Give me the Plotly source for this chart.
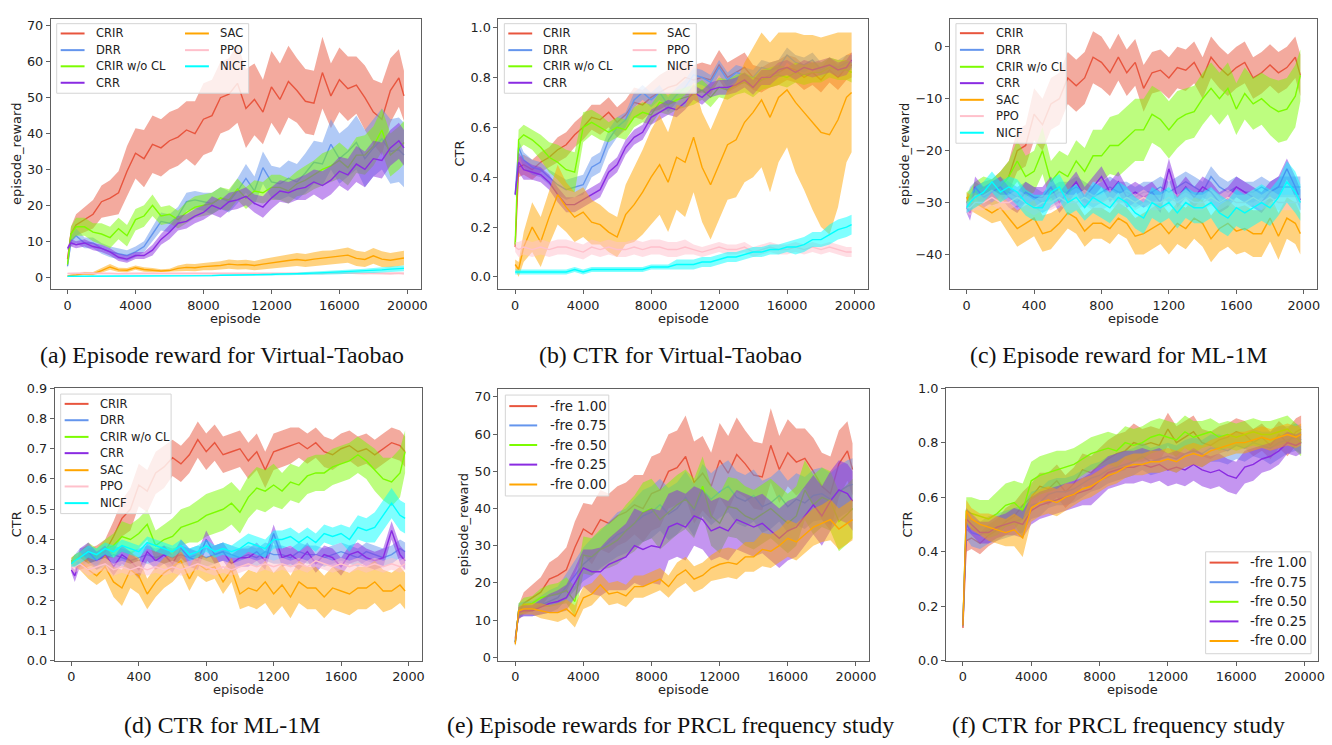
import plotly.graph_objects as go

W, H = 1332, 745

# ---------------- sample positions (episodes) ----------------
EP20K = [0, 200] + list(range(500, 20000, 500)) + [19800]
EP2K = [0, 20] + list(range(50, 2000, 50)) + [1980]

METHODS = ["CRIR", "DRR", "CRIR w/o CL", "CRR", "SAC", "PPO", "NICF"]
FRE_LABELS = ["-fre 1.00", "-fre 0.75", "-fre 0.50", "-fre 0.25", "-fre 0.00"]

X20K_TICKS = [0, 4000, 8000, 12000, 16000, 20000]
X2K_TICKS = [0, 400, 800, 1200, 1600, 2000]
Y_REWARD_TB_TICKS = [0, 10, 20, 30, 40, 50, 60, 70]
Y_CTR_TICKS_10 = [0.0, 0.2, 0.4, 0.6, 0.8, 1.0]
Y_REWARD_ML_TICKS = [-40, -30, -20, -10, 0]
Y_CTR_TICKS_09 = [0.0, 0.1, 0.2, 0.3, 0.4, 0.5, 0.6, 0.7, 0.8, 0.9]

CAPTIONS = ["(a) Episode reward for Virtual-Taobao", "(b) CTR for Virtual-Taobao",
            "(c) Episode reward for ML-1M", "(d) CTR for ML-1M",
            "(e) Episode rewards for PRCL frequency study", "(f) CTR for PRCL frequency study"]

# ---------------- (a) episode reward, Virtual-Taobao ----------------
A_CRIR_MEAN = [5, 12,
    14.5, 16, 17.5, 21, 22, 23.5, 29.5, 34.5, 33, 37,
    36, 38, 39, 41, 40, 44, 45, 50, 51, 54,
    47, 49.5, 46, 53, 49.5, 54.5, 52, 49, 48.5, 57,
    50.5, 55, 52.5, 53.5, 50, 46, 44, 52, 55.5, 50.5]
A_CRIR_SPREAD = [1, 2,
    3, 3.5, 4, 4.5, 5, 6, 7, 7, 8, 8,
    8, 8, 8, 8, 9, 10, 10, 10, 10, 11,
    11, 10, 9, 10, 10, 10, 9, 9, 9, 10,
    9, 9, 9, 8, 9, 9, 10, 9, 8, 7]
A_DRR_MEAN = [3, 10,
    11.5, 9.5, 9.5, 8, 7, 6.5, 6, 7, 8.5, 12,
    15.5, 15, 17, 21, 21.5, 21, 20.5, 22, 21, 24,
    27.5, 24, 30.5, 26.5, 26, 27.5, 26.5, 29, 32, 31.5,
    37, 33, 35, 37.5, 33, 36, 38.5, 35, 35.5, 34]
A_DRR_SPREAD = [0.5, 1.5,
    2, 1.5, 1.5, 1.5, 1.5, 1.5, 1.5, 1.5, 1.5, 2,
    2.5, 2.5, 2.5, 2.5, 2.5, 2.5, 3, 3, 3, 3.5,
    4, 4, 4.5, 4.5, 4.5, 5, 5, 5.5, 6, 6,
    7, 7, 7, 7.5, 8, 8, 8.5, 9, 9, 9]
A_GRN_MEAN = [3.5, 12,
    14, 14, 12.5, 12, 11, 13.5, 11.5, 16, 17, 20,
    17, 17.5, 16, 18, 19.5, 20, 20.5, 22, 21.5, 24.5,
    22, 24, 23.5, 25, 25, 24, 26, 27, 28.5, 30,
    31, 32.5, 30.5, 34, 34, 36.5, 41, 34, 36, 37.5]
A_GRN_SPREAD = [0.5, 2,
    2.5, 2.5, 2.5, 3, 3, 3, 3, 3, 3, 3,
    2.5, 2.5, 2.5, 3, 3, 3, 3, 3, 3, 3,
    3, 3, 3, 3.5, 3.5, 3.5, 3.5, 4, 4, 4.5,
    4.5, 5, 5, 5, 5.5, 5.5, 6, 6, 6, 6]
A_CRR_MEAN = [8, 9.5,
    9, 9.5, 8.5, 8, 7, 5.5, 5, 6, 6, 7.5,
    10.5, 12.5, 15, 15.5, 17, 18, 20, 19, 21, 21.5,
    22.5, 20.5, 19.5, 22, 24, 23.5, 24.5, 25, 26.5, 25.5,
    27, 29.5, 28.5, 31.5, 30, 33, 32.5, 36, 38, 36]
A_CRR_SPREAD = [0.5, 1,
    1, 1, 1, 1, 1, 1, 1, 1, 1, 1.5,
    1.5, 2, 2, 2, 2, 2, 2.5, 2.5, 2.5, 2.5,
    2.5, 2.5, 3, 3, 3, 3, 3, 3.5, 3.5, 4,
    4, 4, 4.5, 5, 5, 5, 5, 5, 5, 5]
A_SAC_MEAN = [0.3, 0.5,
    0.6, 1.0, 0.9, 1.8, 2.8, 2.0, 1.9, 2.6, 2.1, 1.9,
    1.7, 1.8, 2.4, 2.7, 2.6, 2.9, 3.0, 3.2, 3.6, 3.4,
    3.5, 3.2, 3.6, 4.0, 4.3, 4.6, 4.9, 4.6, 5.0, 5.3,
    5.4, 5.8, 6.1, 5.2, 4.9, 5.9, 5.0, 4.7, 5.0, 5.3]
A_SAC_SPREAD = [0.2, 0.3,
    0.3, 0.4, 0.5, 0.6, 0.8, 0.6, 0.6, 0.6, 0.6, 0.6,
    0.5, 0.5, 0.8, 1.0, 1.0, 1.0, 1.1, 1.2, 1.3, 1.3,
    1.3, 1.3, 1.4, 1.5, 1.6, 1.7, 1.8, 1.8, 1.9, 2.0,
    2.0, 2.0, 2.1, 2.1, 2.1, 2.2, 2.2, 2.0, 2.0, 2.0]
A_PPO_MEAN = [1.0, 1.0,
    1.1, 1.2, 1.1, 1.0, 1.0, 0.9, 1.0, 1.1, 1.0, 1.0,
    0.9, 1.0, 1.0, 1.1, 1.0, 1.0, 1.1, 1.0, 1.0, 1.0,
    1.1, 1.0, 0.9, 1.0, 1.0, 1.1, 1.0, 1.0, 1.1, 1.0,
    1.2, 1.1, 1.2, 1.1, 1.0, 1.1, 1.0, 1.0, 1.1, 1.0]
A_PPO_SPREAD = [0.2, 0.3,
    0.3, 0.3, 0.3, 0.3, 0.3, 0.3, 0.3, 0.3, 0.3, 0.3,
    0.3, 0.3, 0.3, 0.3, 0.3, 0.3, 0.3, 0.3, 0.3, 0.3,
    0.3, 0.3, 0.3, 0.3, 0.3, 0.3, 0.3, 0.3, 0.3, 0.3,
    0.3, 0.3, 0.3, 0.3, 0.4, 0.4, 0.4, 0.4, 0.4, 0.4]
A_NICF_MEAN = [0.2, 0.2,
    0.2, 0.2, 0.2, 0.2, 0.2, 0.2, 0.3, 0.3, 0.3, 0.3,
    0.3, 0.3, 0.4, 0.4, 0.4, 0.4, 0.4, 0.5, 0.5, 0.5,
    0.6, 0.6, 0.7, 0.7, 0.8, 0.8, 0.9, 1.0, 1.1, 1.2,
    1.3, 1.3, 1.4, 1.5, 1.7, 1.8, 2.0, 2.2, 2.3, 2.4]
A_NICF_SPREAD = [0.1, 0.1,
    0.1, 0.1, 0.1, 0.1, 0.1, 0.1, 0.1, 0.1, 0.1, 0.1,
    0.1, 0.1, 0.1, 0.1, 0.2, 0.2, 0.2, 0.2, 0.2, 0.2,
    0.2, 0.2, 0.3, 0.3, 0.3, 0.3, 0.3, 0.4, 0.4, 0.4,
    0.5, 0.5, 0.5, 0.6, 0.6, 0.7, 0.7, 0.8, 0.8, 0.8]

# ---------------- (b) CTR, Virtual-Taobao ----------------
B_CRIR_MEAN = [0.12, 0.44,
    0.45, 0.43, 0.46, 0.48, 0.51, 0.53, 0.57, 0.60, 0.64, 0.63,
    0.66, 0.62, 0.65, 0.70, 0.69, 0.72, 0.74, 0.76, 0.77, 0.80,
    0.79, 0.80, 0.79, 0.85, 0.80, 0.82, 0.84, 0.80, 0.79, 0.81,
    0.82, 0.84, 0.83, 0.80, 0.82, 0.79, 0.83, 0.80, 0.84, 0.85]
B_CRIR_SPREAD = [0.01, 0.04,
    0.04, 0.04, 0.04, 0.04, 0.05, 0.05, 0.05, 0.05, 0.05, 0.06,
    0.06, 0.06, 0.06, 0.06, 0.06, 0.06, 0.07, 0.07, 0.07, 0.07,
    0.06, 0.06, 0.06, 0.06, 0.06, 0.06, 0.06, 0.05, 0.05, 0.05,
    0.05, 0.05, 0.05, 0.05, 0.05, 0.05, 0.05, 0.05, 0.05, 0.05]
B_DRR_MEAN = [0.33, 0.52,
    0.47, 0.44, 0.43, 0.40, 0.37, 0.35, 0.36, 0.37, 0.44, 0.46,
    0.55, 0.60, 0.63, 0.71, 0.74, 0.71, 0.74, 0.69, 0.73, 0.76,
    0.81, 0.80, 0.78, 0.84, 0.79, 0.82, 0.81, 0.80, 0.84, 0.83,
    0.84, 0.89, 0.86, 0.85, 0.87, 0.83, 0.85, 0.84, 0.86, 0.86]
B_DRR_SPREAD = [0.01, 0.03,
    0.03, 0.03, 0.03, 0.03, 0.04, 0.04, 0.04, 0.04, 0.04, 0.04,
    0.04, 0.04, 0.03, 0.03, 0.03, 0.03, 0.03, 0.03, 0.03, 0.03,
    0.03, 0.03, 0.03, 0.03, 0.03, 0.03, 0.03, 0.03, 0.03, 0.03,
    0.03, 0.03, 0.03, 0.03, 0.03, 0.03, 0.03, 0.03, 0.03, 0.03]
B_GRN_MEAN = [0.13, 0.55,
    0.57, 0.55, 0.52, 0.48, 0.46, 0.43, 0.42, 0.60, 0.62, 0.60,
    0.58, 0.60, 0.59, 0.64, 0.66, 0.65, 0.70, 0.69, 0.71, 0.72,
    0.73, 0.75, 0.72, 0.76, 0.75, 0.77, 0.78, 0.76, 0.79, 0.80,
    0.81, 0.80, 0.82, 0.81, 0.82, 0.82, 0.84, 0.83, 0.83, 0.82]
B_GRN_SPREAD = [0.01, 0.04,
    0.04, 0.04, 0.05, 0.06, 0.07, 0.08, 0.08, 0.06, 0.05, 0.05,
    0.04, 0.04, 0.04, 0.04, 0.04, 0.04, 0.04, 0.04, 0.04, 0.04,
    0.04, 0.04, 0.04, 0.04, 0.04, 0.04, 0.04, 0.04, 0.04, 0.04,
    0.04, 0.04, 0.04, 0.04, 0.04, 0.04, 0.04, 0.04, 0.04, 0.04]
B_CRR_MEAN = [0.33, 0.46,
    0.43, 0.42, 0.41, 0.38, 0.33, 0.29, 0.29, 0.31, 0.33, 0.35,
    0.42, 0.45, 0.52, 0.56, 0.58, 0.64, 0.66, 0.68, 0.67, 0.70,
    0.74, 0.72, 0.75, 0.76, 0.76, 0.77, 0.79, 0.76, 0.80, 0.80,
    0.83, 0.84, 0.82, 0.84, 0.83, 0.84, 0.85, 0.83, 0.84, 0.87]
B_CRR_SPREAD = [0.01, 0.04,
    0.04, 0.03, 0.03, 0.03, 0.03, 0.03, 0.03, 0.03, 0.03, 0.03,
    0.03, 0.03, 0.03, 0.03, 0.03, 0.03, 0.03, 0.03, 0.03, 0.03,
    0.03, 0.03, 0.03, 0.03, 0.03, 0.03, 0.03, 0.03, 0.03, 0.03,
    0.03, 0.03, 0.03, 0.03, 0.03, 0.03, 0.03, 0.03, 0.03, 0.03]
B_SAC_MEAN = [0.05, 0.03,
    0.12, 0.20, 0.14, 0.24, 0.33, 0.28, 0.24, 0.26, 0.22, 0.21,
    0.18, 0.16, 0.25, 0.29, 0.34, 0.40, 0.45, 0.38, 0.48, 0.46,
    0.56, 0.44, 0.37, 0.45, 0.53, 0.55, 0.62, 0.66, 0.71, 0.64,
    0.72, 0.75, 0.70, 0.66, 0.62, 0.58, 0.57, 0.63, 0.72, 0.74]
B_SAC_SPREAD = [0.02, 0.03,
    0.06, 0.10, 0.10, 0.11, 0.12, 0.10, 0.10, 0.10, 0.09, 0.08,
    0.08, 0.08, 0.12, 0.15, 0.17, 0.19, 0.20, 0.20, 0.21, 0.22,
    0.22, 0.22, 0.22, 0.22, 0.22, 0.23, 0.24, 0.26, 0.27, 0.30,
    0.26, 0.23, 0.28, 0.31, 0.35, 0.38, 0.40, 0.35, 0.26, 0.24]
B_PPO_MEAN = [0.12, 0.11,
    0.12, 0.11, 0.12, 0.11, 0.12, 0.12, 0.11, 0.10, 0.12, 0.11,
    0.12, 0.11, 0.11, 0.12, 0.11, 0.12, 0.12, 0.11, 0.11, 0.12,
    0.11, 0.10, 0.11, 0.12, 0.11, 0.11, 0.12, 0.10, 0.11, 0.12,
    0.11, 0.11, 0.12, 0.11, 0.12, 0.11, 0.12, 0.11, 0.10, 0.10]
B_PPO_SPREAD = [0.02, 0.03,
    0.03, 0.03, 0.03, 0.03, 0.03, 0.03, 0.03, 0.03, 0.03, 0.03,
    0.03, 0.03, 0.03, 0.03, 0.03, 0.03, 0.03, 0.03, 0.03, 0.03,
    0.02, 0.02, 0.02, 0.02, 0.02, 0.02, 0.02, 0.02, 0.02, 0.02,
    0.02, 0.02, 0.02, 0.02, 0.02, 0.02, 0.02, 0.02, 0.02, 0.02]
B_NICF_MEAN = [0.02, 0.02,
    0.02, 0.02, 0.02, 0.02, 0.02, 0.02, 0.03, 0.02, 0.03, 0.03,
    0.03, 0.03, 0.03, 0.03, 0.03, 0.04, 0.04, 0.04, 0.05, 0.05,
    0.05, 0.06, 0.06, 0.07, 0.08, 0.08, 0.09, 0.10, 0.10, 0.11,
    0.11, 0.12, 0.12, 0.13, 0.15, 0.15, 0.17, 0.19, 0.20, 0.21]
B_NICF_SPREAD = [0.01, 0.01,
    0.01, 0.01, 0.01, 0.01, 0.01, 0.01, 0.01, 0.01, 0.01, 0.01,
    0.01, 0.01, 0.01, 0.01, 0.01, 0.01, 0.01, 0.01, 0.02, 0.02,
    0.02, 0.02, 0.02, 0.02, 0.02, 0.02, 0.02, 0.02, 0.02, 0.02,
    0.02, 0.02, 0.03, 0.03, 0.03, 0.03, 0.04, 0.04, 0.04, 0.04]

# ---------------- (c) episode reward, ML-1M ----------------
C_CRIR_MEAN = [-30, -30,
    -29, -28, -28, -27, -25, -20, -19, -13, -15, -11,
    -10, -6, -7.5, -6, -2, -3, -5, -2, -5, -3,
    -8, -5, -4.5, -6, -4, -4.5, -3, -6, -2, -4,
    -5.5, -4, -3, -6, -5, -3.5, -5, -4, -2, -5.5]
C_CRIR_SPREAD = [1, 1.5,
    2, 2, 2.5, 3, 3, 4, 4, 5, 5, 5,
    5, 5, 5, 5, 5, 5, 4.5, 4.5, 4.5, 4.5,
    4.5, 4, 4, 4, 4, 4, 4, 4, 4, 4,
    4, 4, 4, 4, 4, 4, 4, 4, 4, 4]
C_DRR_MEAN = [-30, -29,
    -28, -29, -28, -27, -28, -29, -28, -29, -30, -29,
    -28, -28, -27, -28, -29, -28, -27, -28, -28, -29,
    -28, -28, -27, -28, -27, -26, -27, -28, -25, -27,
    -28, -27, -28, -28, -27, -28, -27, -27, -27, -27]
C_DRR_SPREAD = [1, 2,
    2, 2, 2, 2, 2, 2, 2, 2, 2, 2,
    2, 2, 2, 2, 2, 2, 2, 2, 2, 2,
    2, 2, 2, 2, 2, 2, 2, 2, 2, 2,
    2, 2, 2, 2, 2, 2, 2, 2, 2, 2]
C_GRN_MEAN = [-29, -29,
    -28, -27, -28, -27, -25, -22, -25, -24, -20, -26,
    -24, -25, -22, -24, -21, -21, -19, -19, -17.5, -16,
    -16, -13, -14, -16, -14, -13, -12.5, -10, -8, -10,
    -8, -12, -9, -11, -10, -11.5, -12.5, -12, -9.5, -5.5]
C_GRN_SPREAD = [1, 1.5,
    2, 2, 2.5, 3, 3, 4, 4, 4, 4.5, 4,
    4, 4, 4, 4.5, 5, 5, 5.5, 6, 6, 6,
    6, 5.5, 5.5, 5.5, 5.5, 5, 5, 5, 5, 5,
    5, 5, 5, 5, 5, 5.5, 6, 6, 6, 5]
C_CRR_MEAN = [-31, -32,
    -27, -29, -28, -27, -29, -30, -28, -29, -29, -27,
    -30, -28, -26, -29, -27, -25, -28, -26, -29, -28,
    -29, -28, -30, -23.5, -29, -27, -29, -27, -28, -30,
    -29, -27, -28, -29, -30, -28, -27, -23.5, -27, -29.5]
C_CRR_SPREAD = [1, 1.5,
    2, 2, 2, 2, 2, 2, 2, 2, 2, 2,
    2, 2, 2, 2, 2, 2, 2, 2, 2, 2,
    2, 2, 2, 2, 2, 2, 2, 2, 2, 2,
    2, 2, 2, 2, 2, 2, 2, 2, 2, 2]
C_SAC_MEAN = [-29, -30,
    -30, -31, -32, -31, -33, -35, -34, -33, -36, -35.5,
    -34, -32, -33, -35.5, -34, -34, -35, -33, -34, -36.5,
    -36, -35, -34, -36, -34, -35, -33, -34, -37, -35,
    -34, -35.5, -35, -36, -36, -33, -36.5, -33, -34, -36]
C_SAC_SPREAD = [1, 1.5,
    2, 2, 2, 2.5, 3, 3.5, 3.5, 3.5, 3.5, 3.5,
    3, 3, 3, 3, 3, 3, 3, 3, 3, 3.5,
    4, 4, 4, 4, 4, 4, 4, 4.5, 4.5, 4.5,
    4.5, 4.5, 4.5, 4.5, 4.5, 4.5, 4.5, 4, 4, 4]
C_PPO_MEAN = [-31, -31,
    -30, -30, -29, -30, -30, -29, -30, -31, -30, -30,
    -29, -30, -30, -29, -30, -30, -29, -30, -29, -30,
    -29, -30, -30, -29, -30, -29, -30, -30, -29, -30,
    -29, -30, -30, -29, -30, -29, -30, -30, -30, -30]
C_PPO_SPREAD = [1, 1.5,
    1.5, 1.5, 1.5, 1.5, 1.5, 1.5, 1.5, 1.5, 1.5, 1.5,
    1.5, 1.5, 1.5, 1.5, 1.5, 1.5, 1.5, 1.5, 1.5, 1.5,
    1.5, 1.5, 1.5, 1.5, 1.5, 1.5, 1.5, 1.5, 1.5, 1.5,
    1.5, 1.5, 1.5, 1.5, 1.5, 1.5, 1.5, 1.5, 1.5, 1.5]
C_NICF_MEAN = [-31, -30,
    -29, -28, -26, -28, -27, -28, -30, -31, -31, -28,
    -27, -30, -29, -31, -29, -30, -31, -29, -30, -32,
    -33, -30, -31, -30, -32, -30, -31, -31, -30, -32,
    -33, -31, -32, -31, -30, -31, -29, -26, -28, -30]
C_NICF_SPREAD = [1, 1.5,
    2, 2, 2, 2, 2, 2.5, 2.5, 2.5, 2.5, 2.5,
    2.5, 2.5, 2.5, 2.5, 3, 3, 3, 3, 3, 3,
    3, 3, 3, 3, 3, 3, 3, 3, 3, 3.5,
    3.5, 3.5, 3.5, 3.5, 3.5, 3.5, 3.5, 4, 4, 3.5]

# ---------------- (d) CTR, ML-1M ----------------
D_CRIR_MEAN = [0.33, 0.33,
    0.32, 0.34, 0.35, 0.36, 0.41, 0.47, 0.50, 0.58, 0.56, 0.62,
    0.64, 0.67, 0.65, 0.68, 0.73, 0.69, 0.72, 0.68, 0.69, 0.70,
    0.66, 0.69, 0.63, 0.69, 0.70, 0.71, 0.72, 0.70, 0.72, 0.69,
    0.68, 0.70, 0.71, 0.69, 0.70, 0.68, 0.70, 0.72, 0.71, 0.69]
D_CRIR_SPREAD = [0.01, 0.02,
    0.02, 0.03, 0.03, 0.04, 0.05, 0.06, 0.07, 0.07, 0.07, 0.07,
    0.07, 0.06, 0.06, 0.06, 0.06, 0.06, 0.06, 0.06, 0.06, 0.06,
    0.06, 0.06, 0.06, 0.06, 0.06, 0.06, 0.05, 0.05, 0.05, 0.05,
    0.05, 0.05, 0.05, 0.05, 0.05, 0.05, 0.05, 0.05, 0.05, 0.05]
D_DRR_MEAN = [0.32, 0.33,
    0.34, 0.35, 0.33, 0.34, 0.35, 0.34, 0.33, 0.34, 0.35, 0.34,
    0.35, 0.34, 0.35, 0.34, 0.35, 0.34, 0.35, 0.36, 0.35, 0.34,
    0.35, 0.34, 0.36, 0.35, 0.35, 0.34, 0.36, 0.35, 0.35, 0.34,
    0.35, 0.36, 0.35, 0.34, 0.36, 0.35, 0.34, 0.35, 0.37, 0.36]
D_DRR_SPREAD = [0.01, 0.02,
    0.03, 0.03, 0.03, 0.03, 0.03, 0.03, 0.03, 0.03, 0.03, 0.03,
    0.03, 0.03, 0.03, 0.03, 0.03, 0.03, 0.03, 0.03, 0.03, 0.03,
    0.03, 0.03, 0.03, 0.03, 0.03, 0.03, 0.03, 0.03, 0.03, 0.03,
    0.03, 0.03, 0.03, 0.03, 0.03, 0.03, 0.03, 0.03, 0.03, 0.03]
D_GRN_MEAN = [0.33, 0.33,
    0.34, 0.36, 0.34, 0.37, 0.38, 0.41, 0.40, 0.42, 0.45, 0.38,
    0.40, 0.41, 0.44, 0.45, 0.46, 0.48, 0.49, 0.50, 0.52, 0.49,
    0.54, 0.57, 0.56, 0.58, 0.56, 0.59, 0.58, 0.61, 0.62, 0.62,
    0.64, 0.65, 0.66, 0.68, 0.66, 0.63, 0.60, 0.59, 0.62, 0.69]
D_GRN_SPREAD = [0.01, 0.02,
    0.02, 0.03, 0.03, 0.03, 0.04, 0.05, 0.05, 0.05, 0.05, 0.05,
    0.05, 0.06, 0.06, 0.06, 0.07, 0.07, 0.07, 0.07, 0.07, 0.07,
    0.07, 0.07, 0.07, 0.07, 0.06, 0.06, 0.06, 0.06, 0.06, 0.06,
    0.06, 0.06, 0.06, 0.06, 0.06, 0.07, 0.07, 0.08, 0.08, 0.07]
D_CRR_MEAN = [0.30, 0.28,
    0.34, 0.36, 0.33, 0.35, 0.31, 0.35, 0.33, 0.30, 0.36, 0.33,
    0.35, 0.32, 0.37, 0.34, 0.33, 0.40, 0.35, 0.36, 0.32, 0.34,
    0.34, 0.36, 0.33, 0.42, 0.34, 0.35, 0.33, 0.36, 0.32, 0.35,
    0.34, 0.31, 0.35, 0.36, 0.34, 0.33, 0.34, 0.43, 0.35, 0.33]
D_CRR_SPREAD = [0.01, 0.02,
    0.03, 0.03, 0.03, 0.03, 0.03, 0.03, 0.03, 0.03, 0.03, 0.03,
    0.03, 0.03, 0.03, 0.03, 0.03, 0.03, 0.03, 0.03, 0.03, 0.03,
    0.03, 0.03, 0.03, 0.03, 0.03, 0.03, 0.03, 0.03, 0.03, 0.03,
    0.03, 0.03, 0.03, 0.03, 0.03, 0.03, 0.03, 0.03, 0.03, 0.03]
D_SAC_MEAN = [0.32, 0.33,
    0.33, 0.30, 0.28, 0.31, 0.26, 0.24, 0.30, 0.28, 0.22, 0.26,
    0.29, 0.31, 0.33, 0.27, 0.32, 0.30, 0.31, 0.26, 0.30, 0.22,
    0.24, 0.23, 0.26, 0.22, 0.25, 0.21, 0.26, 0.24, 0.24, 0.21,
    0.24, 0.23, 0.22, 0.24, 0.24, 0.26, 0.23, 0.23, 0.25, 0.23]
D_SAC_SPREAD = [0.01, 0.02,
    0.03, 0.03, 0.03, 0.04, 0.05, 0.06, 0.06, 0.06, 0.05, 0.05,
    0.05, 0.05, 0.04, 0.04, 0.04, 0.04, 0.04, 0.04, 0.04, 0.05,
    0.06, 0.06, 0.07, 0.07, 0.07, 0.07, 0.07, 0.07, 0.07, 0.07,
    0.07, 0.07, 0.07, 0.07, 0.07, 0.07, 0.07, 0.06, 0.06, 0.06]
D_PPO_MEAN = [0.31, 0.31,
    0.32, 0.30, 0.31, 0.32, 0.30, 0.31, 0.30, 0.31, 0.30, 0.31,
    0.30, 0.31, 0.30, 0.31, 0.32, 0.31, 0.30, 0.31, 0.30, 0.31,
    0.32, 0.31, 0.32, 0.31, 0.32, 0.31, 0.32, 0.31, 0.33, 0.32,
    0.31, 0.32, 0.31, 0.32, 0.31, 0.32, 0.31, 0.32, 0.31, 0.32]
D_PPO_SPREAD = [0.01, 0.02,
    0.02, 0.02, 0.02, 0.02, 0.02, 0.02, 0.02, 0.02, 0.02, 0.02,
    0.02, 0.02, 0.02, 0.02, 0.02, 0.02, 0.02, 0.02, 0.02, 0.02,
    0.02, 0.02, 0.02, 0.02, 0.02, 0.02, 0.02, 0.02, 0.02, 0.02,
    0.02, 0.02, 0.02, 0.02, 0.02, 0.02, 0.02, 0.02, 0.02, 0.02]
D_NICF_MEAN = [0.32, 0.33,
    0.34, 0.36, 0.35, 0.37, 0.36, 0.38, 0.37, 0.36, 0.39, 0.38,
    0.37, 0.36, 0.38, 0.35, 0.36, 0.38, 0.36, 0.37, 0.36, 0.37,
    0.39, 0.38, 0.37, 0.40, 0.40, 0.41, 0.39, 0.41, 0.39, 0.42,
    0.41, 0.42, 0.40, 0.44, 0.43, 0.44, 0.48, 0.52, 0.48, 0.47]
D_NICF_SPREAD = [0.01, 0.02,
    0.02, 0.02, 0.02, 0.02, 0.02, 0.02, 0.02, 0.02, 0.02, 0.02,
    0.02, 0.02, 0.02, 0.02, 0.02, 0.02, 0.02, 0.02, 0.02, 0.03,
    0.03, 0.03, 0.03, 0.03, 0.03, 0.03, 0.03, 0.03, 0.03, 0.03,
    0.03, 0.03, 0.04, 0.04, 0.04, 0.05, 0.05, 0.05, 0.05, 0.05]

# ---------------- (e) episode reward, PRCL frequency ----------------
E_F100_MEAN = A_CRIR_MEAN
E_F100_SPREAD = A_CRIR_SPREAD
E_F075_MEAN = [4, 12.5,
    13, 13, 14, 15, 16, 19, 22, 25, 27, 29,
    31, 33, 34, 36, 38, 39, 41, 38.5, 40, 43,
    39.5, 45, 42.5, 44.5, 46, 43, 42, 43.5, 40.5, 41.5,
    43.5, 40.5, 42.5, 41.5, 43.5, 44, 42.5, 44.5, 46, 46.5]
E_F075_SPREAD = [1, 2,
    2, 2, 2.5, 3, 3, 3.5, 4, 4.5, 5, 5,
    5.5, 6, 6, 6.5, 7, 7, 7, 7, 7, 7,
    7, 7, 7, 7, 7, 7, 7, 7, 7, 7,
    7, 7, 7, 7, 7, 7, 7, 7, 7, 7]
E_F050_MEAN = [4, 12.5,
    14, 14.5, 16, 16.5, 17, 18, 15, 27.5, 27, 29,
    30, 31.5, 34, 36, 39, 40, 37, 39, 41, 42.5,
    40, 46, 38, 36, 40.5, 40, 38, 37, 38.5, 40,
    38, 36, 38, 45, 41, 43, 42, 36.5, 38.5, 40]
E_F050_SPREAD = [1, 2,
    2, 2, 2.5, 3, 3, 3.5, 4, 5, 5, 5.5,
    6, 6.5, 7, 7.5, 8, 8, 8, 8, 8, 8,
    8, 8, 8, 8, 8, 8, 8, 8, 8, 8,
    8, 8, 8, 8, 8, 8, 8, 8, 8, 8]
E_F025_MEAN = [4, 12,
    12.5, 12.5, 13.5, 14.5, 15, 16, 20, 24, 23, 23,
    25, 26, 27, 30, 29, 30, 29.5, 35, 36, 35,
    38, 37, 34, 35, 34, 37, 36, 35, 36, 34,
    32, 34, 35, 38, 41, 38, 42, 45, 44, 42]
E_F025_SPREAD = [1, 1.5,
    1.5, 1.5, 2, 2.5, 3, 3.5, 4, 5, 6, 6.5,
    7, 8, 9, 10, 10, 10, 10, 9, 9, 9,
    8, 8, 8, 8, 8, 8, 8, 8, 8, 8,
    8, 8, 8, 8, 8, 8, 8, 8, 8, 8]
E_F000_MEAN = [3.5, 12.5,
    13, 13, 12.5, 12, 12, 13, 11, 16, 17, 19.5,
    17, 17.5, 16.5, 19, 19, 20, 21, 19, 22, 23.5,
    21, 22, 24, 25, 25.5, 25, 27, 27, 29, 28.5,
    30, 32, 31, 33, 35, 36, 37, 34.5, 36, 37]
E_F000_SPREAD = [0.5, 1,
    1.5, 1.5, 2, 2, 2.5, 2.5, 3, 3, 3, 3,
    3, 3, 3, 3, 3, 3, 3, 3, 3.5, 3.5,
    3.5, 3.5, 3.5, 4, 4, 4, 4, 4, 4.5, 4.5,
    4.5, 5, 5, 5, 5, 5, 5.5, 5.5, 5.5, 5.5]

# ---------------- (f) CTR, PRCL frequency ----------------
F_F100_MEAN = B_CRIR_MEAN
F_F100_SPREAD = B_CRIR_SPREAD
F_F075_MEAN = [0.13, 0.50,
    0.47, 0.46, 0.48, 0.49, 0.50, 0.51, 0.52, 0.57, 0.58, 0.61,
    0.62, 0.62, 0.63, 0.65, 0.67, 0.68, 0.70, 0.71, 0.72, 0.73,
    0.75, 0.73, 0.74, 0.75, 0.74, 0.76, 0.77, 0.76, 0.78, 0.78,
    0.77, 0.79, 0.78, 0.80, 0.79, 0.78, 0.80, 0.81, 0.82, 0.81]
F_F075_SPREAD = [0.01, 0.05,
    0.05, 0.05, 0.05, 0.05, 0.05, 0.05, 0.05, 0.05, 0.05, 0.05,
    0.05, 0.05, 0.05, 0.05, 0.05, 0.05, 0.05, 0.05, 0.05, 0.05,
    0.05, 0.05, 0.05, 0.05, 0.05, 0.05, 0.05, 0.05, 0.05, 0.05,
    0.05, 0.05, 0.05, 0.05, 0.05, 0.06, 0.06, 0.05, 0.05, 0.05]
F_F050_MEAN = [0.13, 0.55,
    0.54, 0.53, 0.52, 0.54, 0.57, 0.58, 0.55, 0.66, 0.68, 0.69,
    0.70, 0.71, 0.72, 0.74, 0.76, 0.77, 0.78, 0.77, 0.80, 0.79,
    0.80, 0.82, 0.83, 0.82, 0.81, 0.84, 0.82, 0.83, 0.84, 0.82,
    0.83, 0.82, 0.83, 0.84, 0.83, 0.83, 0.84, 0.85, 0.82, 0.80]
F_F050_SPREAD = [0.01, 0.05,
    0.06, 0.06, 0.07, 0.08, 0.08, 0.08, 0.10, 0.07, 0.07, 0.07,
    0.07, 0.06, 0.06, 0.06, 0.06, 0.06, 0.06, 0.06, 0.06, 0.06,
    0.06, 0.06, 0.06, 0.06, 0.06, 0.06, 0.06, 0.05, 0.05, 0.05,
    0.05, 0.05, 0.05, 0.05, 0.05, 0.05, 0.05, 0.05, 0.05, 0.05]
F_F025_MEAN = [0.13, 0.52,
    0.50, 0.47, 0.47, 0.49, 0.50, 0.51, 0.50, 0.55, 0.57, 0.58,
    0.59, 0.60, 0.61, 0.62, 0.63, 0.66, 0.69, 0.70, 0.71, 0.71,
    0.72, 0.71, 0.72, 0.70, 0.71, 0.70, 0.72, 0.70, 0.69, 0.70,
    0.68, 0.67, 0.71, 0.72, 0.74, 0.75, 0.77, 0.80, 0.79, 0.80]
F_F025_SPREAD = [0.01, 0.04,
    0.04, 0.04, 0.04, 0.04, 0.04, 0.05, 0.05, 0.05, 0.05, 0.05,
    0.05, 0.05, 0.05, 0.05, 0.06, 0.06, 0.06, 0.06, 0.06, 0.06,
    0.06, 0.06, 0.06, 0.06, 0.06, 0.06, 0.06, 0.06, 0.06, 0.06,
    0.06, 0.06, 0.06, 0.06, 0.05, 0.05, 0.05, 0.04, 0.04, 0.04]
F_F000_MEAN = [0.13, 0.55,
    0.52, 0.50, 0.49, 0.48, 0.47, 0.48, 0.45, 0.56, 0.58, 0.59,
    0.58, 0.60, 0.61, 0.63, 0.64, 0.66, 0.68, 0.69, 0.71, 0.72,
    0.72, 0.73, 0.73, 0.74, 0.73, 0.75, 0.76, 0.75, 0.77, 0.78,
    0.79, 0.80, 0.80, 0.81, 0.82, 0.81, 0.82, 0.83, 0.82, 0.83]
F_F000_SPREAD = [0.01, 0.04,
    0.04, 0.04, 0.05, 0.05, 0.05, 0.06, 0.07, 0.05, 0.05, 0.05,
    0.05, 0.05, 0.04, 0.04, 0.04, 0.04, 0.04, 0.04, 0.04, 0.04,
    0.04, 0.04, 0.04, 0.04, 0.04, 0.04, 0.04, 0.04, 0.04, 0.04,
    0.04, 0.04, 0.04, 0.04, 0.04, 0.04, 0.04, 0.04, 0.04, 0.04]

# ---------------- styling ----------------
RED, BLUE, GREEN, PURPLE = "#E8553E", "#6495ED", "#7CFC00", "#8A2BE2"
ORANGE, PINK, CYAN = "#FFA500", "#FFC0CB", "#00FFFF"
METHOD_COLORS = [RED, BLUE, GREEN, PURPLE, ORANGE, PINK, CYAN]
FRE_COLORS = [RED, BLUE, GREEN, PURPLE, ORANGE]
FONT = "DejaVu Sans"
SERIF = "Liberation Serif"


def rgba(hex_color, a):
    h = hex_color.lstrip("#")
    return "rgba(%d,%d,%d,%.2f)" % (int(h[0:2], 16), int(h[2:4], 16), int(h[4:6], 16), a)


def px(x):
    return x / W


def py(y):
    return 1 - y / H


def fmt_tick(v, decimals):
    s = ("%." + str(decimals) + "f") % v
    return s.replace("-", "\u2212")


PANELS = [
    dict(box=(51, 11, 423, 287), xs=EP20K, xr=[-990, 20790], yr=[-3.4, 72.0],
         xt=X20K_TICKS, yt=Y_REWARD_TB_TICKS, ydec=0, ylabel="episode_reward", ylab_x=17,
         labels=METHODS, colors=METHOD_COLORS,
         series=[(A_CRIR_MEAN, A_CRIR_SPREAD), (A_DRR_MEAN, A_DRR_SPREAD), (A_GRN_MEAN, A_GRN_SPREAD),
                 (A_CRR_MEAN, A_CRR_SPREAD), (A_SAC_MEAN, A_SAC_SPREAD), (A_PPO_MEAN, A_PPO_SPREAD),
                 (A_NICF_MEAN, A_NICF_SPREAD)],
         legend=dict(box=(57, 16, 250, 87), cols=[(61, 85, 94, [26, 43, 59.5, 76.3]),
                                                    (186, 210, 219, [26, 43, 59.5])], size=11.5),
         cap_x=223, cap_y=354),
    dict(box=(501, 11, 873, 287), xs=EP20K, xr=[-990, 20790], yr=[-0.049, 1.035],
         xt=X20K_TICKS, yt=Y_CTR_TICKS_10, ydec=1, ylabel="CTR", ylab_x=462,
         labels=METHODS, colors=METHOD_COLORS,
         series=[(B_CRIR_MEAN, B_CRIR_SPREAD), (B_DRR_MEAN, B_DRR_SPREAD), (B_GRN_MEAN, B_GRN_SPREAD),
                 (B_CRR_MEAN, B_CRR_SPREAD), (B_SAC_MEAN, B_SAC_SPREAD), (B_PPO_MEAN, B_PPO_SPREAD),
                 (B_NICF_MEAN, B_NICF_SPREAD)],
         legend=dict(box=(507, 16, 700, 87), cols=[(511, 535, 544, [26, 43, 59.5, 76.3]),
                                                     (636, 660, 669, [26, 43, 59.5])], size=11.5),
         cap_x=674, cap_y=354),
    dict(box=(955, 11, 1324, 287), xs=EP2K, xr=[-99, 2079], yr=[-46.7, 5.4],
         xt=X2K_TICKS, yt=Y_REWARD_ML_TICKS, ydec=0, ylabel="episode_reward", ylab_x=910,
         labels=METHODS, colors=METHOD_COLORS,
         series=[(C_CRIR_MEAN, C_CRIR_SPREAD), (C_DRR_MEAN, C_DRR_SPREAD), (C_GRN_MEAN, C_GRN_SPREAD),
                 (C_CRR_MEAN, C_CRR_SPREAD), (C_SAC_MEAN, C_SAC_SPREAD), (C_PPO_MEAN, C_PPO_SPREAD),
                 (C_NICF_MEAN, C_NICF_SPREAD)],
         legend=dict(box=(961, 16, 1072, 138),
                     cols=[(965, 989, 999, [25.7, 42.7, 60, 76.7, 93.7, 110.3, 127.3])], size=11.5),
         cap_x=1124, cap_y=354),
    dict(box=(55, 388, 424, 666), xs=EP2K, xr=[-99, 2079], yr=[0, 0.9],
         xt=X2K_TICKS, yt=Y_CTR_TICKS_09, ydec=1, ylabel="CTR", ylab_x=16,
         labels=METHODS, colors=METHOD_COLORS,
         series=[(D_CRIR_MEAN, D_CRIR_SPREAD), (D_DRR_MEAN, D_DRR_SPREAD), (D_GRN_MEAN, D_GRN_SPREAD),
                 (D_CRR_MEAN, D_CRR_SPREAD), (D_SAC_MEAN, D_SAC_SPREAD), (D_PPO_MEAN, D_PPO_SPREAD),
                 (D_NICF_MEAN, D_NICF_SPREAD)],
         legend=dict(box=(61, 394, 172, 516),
                     cols=[(65, 89, 99, [404, 420.7, 437.7, 454.3, 471.7, 488.3, 505.3])], size=11.5),
         cap_x=223, cap_y=732),
    dict(box=(501, 389, 874, 666), xs=EP20K, xr=[-990, 20790], yr=[-0.9, 72.1],
         xt=X20K_TICKS, yt=Y_REWARD_TB_TICKS, ydec=0, ylabel="episode_reward", ylab_x=466,
         labels=FRE_LABELS, colors=FRE_COLORS,
         series=[(E_F100_MEAN, E_F100_SPREAD), (E_F075_MEAN, E_F075_SPREAD), (E_F050_MEAN, E_F050_SPREAD),
                 (E_F025_MEAN, E_F025_SPREAD), (E_F000_MEAN, E_F000_SPREAD)],
         legend=dict(box=(508, 395, 612, 498),
                     cols=[(512, 540, 551, [406.3, 426, 446, 466, 486.3])], size=13.3),
         cap_x=674, cap_y=732),
    dict(box=(951, 388, 1325, 666), xs=EP20K, xr=[-990, 20790], yr=[0, 1.0],
         xt=X20K_TICKS, yt=Y_CTR_TICKS_10, ydec=1, ylabel="CTR", ylab_x=912,
         labels=FRE_LABELS, colors=FRE_COLORS,
         series=[(F_F100_MEAN, F_F100_SPREAD), (F_F075_MEAN, F_F075_SPREAD), (F_F050_MEAN, F_F050_SPREAD),
                 (F_F025_MEAN, F_F025_SPREAD), (F_F000_MEAN, F_F000_SPREAD)],
         legend=dict(box=(1212, 555, 1318, 659),
                     cols=[(1216, 1245, 1255, [566, 586, 606, 626, 646])], size=13.3),
         cap_x=1124, cap_y=732),
]

fig = go.Figure()
shapes, annotations = [], []
axis_line = "#606060"
tick_font = dict(family=FONT, size=12.8, color="#222222")

for i, p in enumerate(PANELS):
    n = "" if i == 0 else str(i + 1)
    xa, ya = "x" + n, "y" + n
    l, t, r, b = p["box"]
    xs = p["xs"]
    for (mean, spread), color in zip(p["series"], p["colors"]):
        upper = [m + s for m, s in zip(mean, spread)]
        lower = [m - s for m, s in zip(mean, spread)]
        fig.add_trace(go.Scatter(x=xs + xs[::-1], y=upper + lower[::-1], fill="toself",
                                 fillcolor=rgba(color, 0.5), line=dict(width=0), mode="lines",
                                 hoverinfo="skip", showlegend=False, xaxis=xa, yaxis=ya))
        fig.add_trace(go.Scatter(x=xs, y=mean, mode="lines", line=dict(color=color, width=1.4),
                                 showlegend=False, xaxis=xa, yaxis=ya))
    fig.layout["xaxis" + n] = dict(
        domain=[px(l), px(r)], anchor=ya, range=p["xr"], tickmode="array",
        tickvals=p["xt"], ticktext=[str(v) for v in p["xt"]],
        showline=True, mirror=True, linecolor=axis_line, linewidth=1,
        ticks="outside", ticklen=4, tickcolor=axis_line, showgrid=False, zeroline=False,
        tickfont=tick_font)
    fig.layout["yaxis" + n] = dict(
        domain=[py(b), py(t)], anchor=xa, range=p["yr"], tickmode="array",
        tickvals=p["yt"], ticktext=[fmt_tick(v, p["ydec"]) for v in p["yt"]],
        showline=True, mirror=True, linecolor=axis_line, linewidth=1,
        ticks="outside", ticklen=4, tickcolor=axis_line, showgrid=False, zeroline=False,
        tickfont=tick_font)
    # axis titles
    annotations.append(dict(text="episode", x=px((l + r) / 2), y=py(b + 30), xref="paper", yref="paper",
                            showarrow=False, xanchor="center", yanchor="middle",
                            font=dict(family=FONT, size=13, color="#222222")))
    annotations.append(dict(text=p["ylabel"], x=px(p["ylab_x"]), y=py((t + b) / 2), xref="paper",
                            yref="paper", showarrow=False, textangle=-90, xanchor="center",
                            yanchor="middle", font=dict(family=FONT, size=13, color="#222222")))
    # caption
    annotations.append(dict(text=CAPTIONS[i], x=px(p["cap_x"]), y=py(p["cap_y"]), xref="paper",
                            yref="paper", showarrow=False, xanchor="center", yanchor="middle",
                            font=dict(family=SERIF, size=23.8, color="#111111")))
    # legend (box + line samples + labels)
    lg = p["legend"]
    bl, bt, br, bb = lg["box"]
    shapes.append(dict(type="rect", xref="paper", yref="paper", x0=px(bl), x1=px(br), y0=py(bb), y1=py(bt),
                       fillcolor="rgba(255,255,255,0.8)", line=dict(color="#d4d4d4", width=1), layer="above"))
    k = 0
    for (lx0, lx1, tx, rows) in lg["cols"]:
        for ry in rows:
            shapes.append(dict(type="line", xref="paper", yref="paper", x0=px(lx0), x1=px(lx1),
                               y0=py(ry), y1=py(ry), line=dict(color=p["colors"][k], width=2), layer="above"))
            annotations.append(dict(text=p["labels"][k], x=px(tx), y=py(ry), xref="paper", yref="paper",
                                    showarrow=False, xanchor="left", yanchor="middle",
                                    font=dict(family=FONT, size=lg["size"], color="#222222")))
            k += 1

fig.update_layout(width=W, height=H, margin=dict(l=0, r=0, t=0, b=0),
                  paper_bgcolor="white", plot_bgcolor="white", showlegend=False,
                  shapes=shapes, annotations=annotations)

fig.write_html("out.html", config={"displayModeBar": False},
               post_script="document.body.style.margin='0';document.body.style.overflow='hidden';")
